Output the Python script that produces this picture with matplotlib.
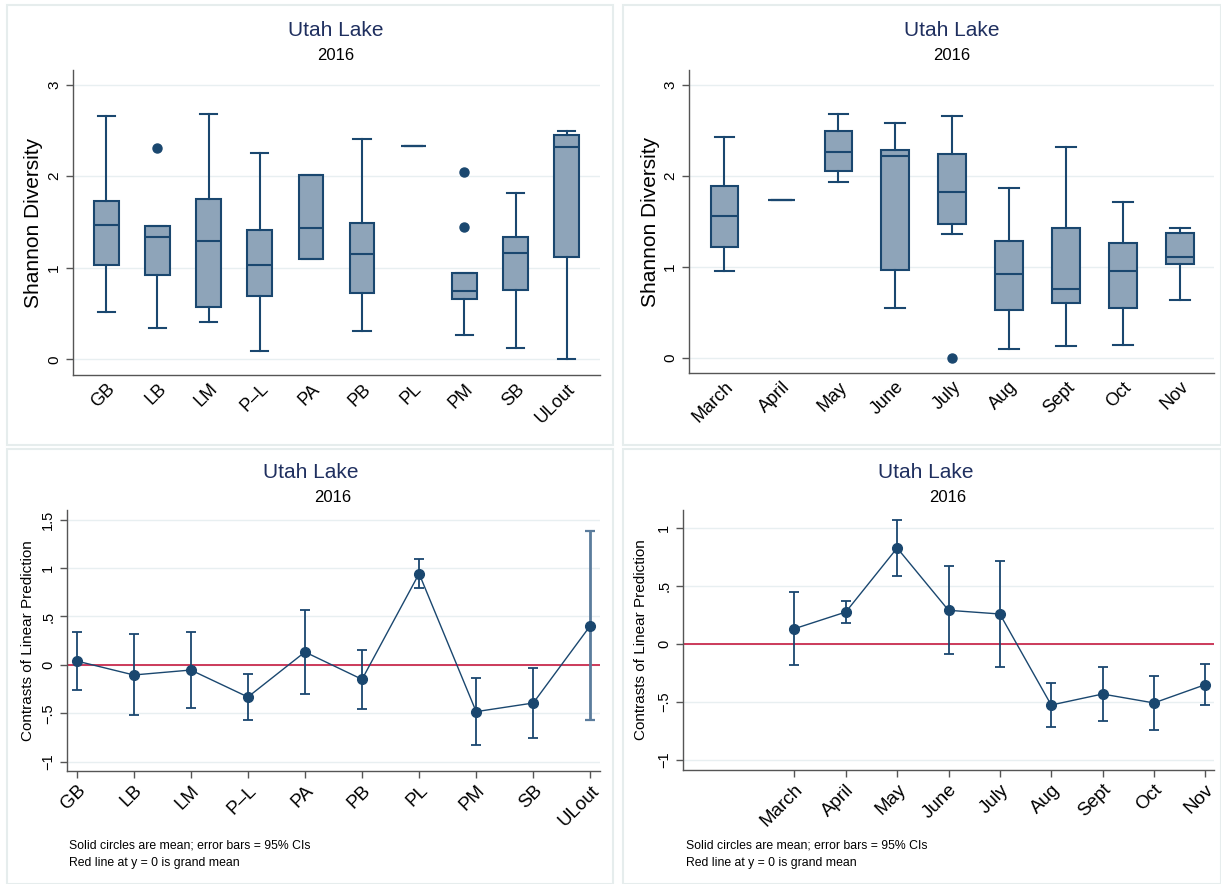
import matplotlib
matplotlib.use("Agg")
import matplotlib.pyplot as plt
from matplotlib.patches import Rectangle

plt.rcParams['font.family'] = ['Liberation Sans', 'DejaVu Sans']

# ---------------- data ----------------
sites = ["GB", "LB", "LM", "P–L", "PA", "PB", "PL", "PM", "SB", "ULout"]
site_whislo = [0.52, 0.34, 0.41, 0.09, 1.10, 0.31, 2.33, 0.27, 0.13, 0.00]
site_q1     = [1.03, 0.92, 0.575, 0.695, 1.10, 0.72, 2.33, 0.655, 0.753, 1.116]
site_med    = [1.465, 1.338, 1.29, 1.036, 1.436, 1.156, 2.33, 0.749, 1.167, 2.324]
site_q3     = [1.73, 1.458, 1.75, 1.411, 2.015, 1.491, 2.33, 0.942, 1.335, 2.451]
site_whishi = [2.66, 1.458, 2.676, 2.258, 2.015, 2.41, 2.33, 0.942, 1.818, 2.495]
site_fliers = [[], [2.31], [], [], [], [], [], [2.047, 1.447], [], []]

months = ["March", "April", "May", "June", "July", "Aug", "Sept", "Oct", "Nov"]
month_whislo = [0.946, 1.728, 1.929, 0.541, 1.359, 0.091, 0.132, 0.142, 0.628]
month_q1     = [1.217, 1.728, 2.05, 0.965, 1.472, 0.522, 0.596, 0.544, 1.027]
month_med    = [1.553, 1.728, 2.258, 2.214, 1.816, 0.917, 0.749, 0.946, 1.100]
month_q3     = [1.889, 1.728, 2.492, 2.284, 2.240, 1.286, 1.429, 1.264, 1.374]
month_whishi = [2.419, 1.728, 2.678, 2.576, 2.656, 1.867, 2.309, 1.710, 1.425]
month_fliers = [[], [], [], [], [0.0], [], [], [], []]

site_mean = [0.041, -0.103, -0.052, -0.330, 0.134, -0.148, 0.942, -0.481, -0.392, 0.405]
site_lo   = [-0.261, -0.519, -0.440, -0.564, -0.299, -0.454, 0.797, -0.825, -0.749, -0.567]
site_hi   = [0.344, 0.316, 0.337, -0.093, 0.567, 0.158, 1.096, -0.134, -0.031, 1.378]

month_num  = [3, 4, 5, 6, 7, 8, 9, 10, 11]
month_mean = [0.132, 0.276, 0.829, 0.291, 0.259, -0.527, -0.432, -0.509, -0.351]
month_lo   = [-0.181, 0.178, 0.584, -0.089, -0.196, -0.717, -0.668, -0.740, -0.529]
month_hi   = [0.449, 0.374, 1.073, 0.676, 0.717, -0.337, -0.196, -0.276, -0.176]

title_txt = "Utah Lake"
sub_txt = "2016"
note1 = "Solid circles are mean; error bars = 95% CIs"
note2 = "Red line at y = 0 is grand mean"

# ---------------- style ----------------
NAVY = "#1a476f"
LIGHT_NAVY = "#5b7c9c"
FILL = "#8ea4b9"
GRID = "#e8eff1"
SPINE = "#555555"
TITLE_C = "#1f2f5f"
RED = "#cc3a5a"

W, H = 1221, 884
fig = plt.figure(figsize=(W / 100, H / 100), dpi=100)
fig.patch.set_facecolor("white")

def px_rect(l, t, r, b):
    return [l / W, 1 - b / H, (r - l) / W, (b - t) / H]

# panel borders
for (l, t, r, b) in [(7, 5, 613, 445), (623, 5, 1221, 445), (7, 449, 613, 884), (623, 449, 1221, 884)]:
    fig.patches.append(Rectangle((l / W, 1 - b / H), (r - l) / W, (b - t) / H,
                                 transform=fig.transFigure, fill=False,
                                 edgecolor="#e6eded", lw=1.5))

def style_axes(ax):
    for s in ["top", "right"]:
        ax.spines[s].set_visible(False)
    for s in ["left", "bottom"]:
        ax.spines[s].set_color(SPINE)
        ax.spines[s].set_linewidth(1.0)
    ax.yaxis.grid(True, color=GRID, lw=1.0)
    ax.set_axisbelow(True)
    ax.tick_params(axis="y", colors=SPINE, length=5, width=1, labelcolor="black")

def titles(xc_title, xc_sub, y_title, y_sub):
    fig.text(xc_title / W, 1 - y_title / H, title_txt, ha="center", va="center",
             fontsize=15, color=TITLE_C)
    fig.text(xc_sub / W, 1 - y_sub / H, sub_txt, ha="center", va="center",
             fontsize=12, color="black")

def box_panel(rect, labels, whislo, q1, med, q3, whishi, fliers):
    ax = fig.add_axes(rect)
    style_axes(ax)
    stats = []
    for i in range(len(labels)):
        stats.append(dict(whislo=whislo[i], q1=q1[i], med=med[i], q3=q3[i],
                          whishi=whishi[i], fliers=fliers[i]))
    pos = list(range(1, len(labels) + 1))
    ax.bxp(stats, positions=pos, widths=0.48, patch_artist=True,
           showfliers=True, capwidths=0.34,
           boxprops=dict(facecolor=FILL, edgecolor=NAVY, linewidth=1.5),
           medianprops=dict(color=NAVY, linewidth=1.5),
           whiskerprops=dict(color=NAVY, linewidth=1.5),
           capprops=dict(color=NAVY, linewidth=1.5),
           flierprops=dict(marker="o", markerfacecolor=NAVY,
                           markeredgecolor=NAVY, markersize=6.5))
    ax.set_xlim(0.35, len(labels) + 0.65)
    ax.set_ylim(-0.17, 3.16)
    ax.set_yticks([0, 1, 2, 3])
    ax.set_yticklabels(["0", "1", "2", "3"], rotation=90, va="center", fontsize=11)
    ax.set_xticks(pos)
    ax.set_xticklabels(labels, rotation=45, ha="right", rotation_mode="anchor",
                       fontsize=13)
    ax.tick_params(axis="x", length=0, pad=4)
    ax.set_ylabel("Shannon Diversity", fontsize=15)
    return ax

ax1 = box_panel(px_rect(73, 70, 600, 375), sites, site_whislo, site_q1, site_med,
                site_q3, site_whishi, site_fliers)
ax1.yaxis.set_label_coords(-0.056, 0.5)
titles(336, 336, 31, 56)

ax2 = box_panel(px_rect(689, 70, 1214, 373), months, month_whislo, month_q1, month_med,
                month_q3, month_whishi, month_fliers)
ax2.set_xlim(0.38, len(months) + 0.6)
ax2.yaxis.set_label_coords(-0.056, 0.5)
titles(952, 952, 31, 56)

def contrast_panel(rect, xs, labels, mean, lo, hi, xlim, ylim, yticks, yticklabels,
                   light_last=False):
    ax = fig.add_axes(rect)
    style_axes(ax)
    ax.axhline(0, color=RED, lw=1.4, zorder=2)
    yerr_lo = [m - l for m, l in zip(mean, lo)]
    yerr_hi = [h - m for m, h in zip(mean, hi)]
    n = len(xs) - 1 if light_last else len(xs)
    ax.errorbar(xs[:n], mean[:n], yerr=[yerr_lo[:n], yerr_hi[:n]], fmt="none",
                ecolor=NAVY, elinewidth=1.3, capsize=3.5, capthick=1.3, zorder=3)
    if light_last:
        ax.errorbar(xs[n:], mean[n:], yerr=[yerr_lo[n:], yerr_hi[n:]], fmt="none",
                    ecolor=LIGHT_NAVY, elinewidth=2.0, capsize=3.5, capthick=1.6,
                    zorder=3)
    ax.plot(xs, mean, "-o", color=NAVY, lw=1.0, markersize=7, zorder=4)
    ax.set_xlim(*xlim)
    ax.set_ylim(*ylim)
    ax.set_yticks(yticks)
    ax.set_yticklabels(yticklabels, rotation=90, va="center", fontsize=10.5)
    ax.set_xticks(xs)
    ax.set_xticklabels(labels, rotation=45, ha="right", rotation_mode="anchor",
                       fontsize=13.5)
    ax.tick_params(axis="x", colors=SPINE, length=5, width=1, labelcolor="black", pad=3)
    ax.set_ylabel("Contrasts of Linear Prediction", fontsize=11)
    return ax

ax3 = contrast_panel(px_rect(67, 510, 600, 771), list(range(1, len(sites) + 1)), sites,
                     site_mean, site_lo, site_hi, (0.83, len(sites) + 0.17),
                     (-1.093, 1.598), [-1, -0.5, 0, 0.5, 1, 1.5],
                     ["−1", "−.5", "0", ".5", "1", "1.5"], light_last=True)
ax3.yaxis.set_label_coords(-0.06, 0.5)
titles(311, 333, 472, 497)
fig.text(69 / W, 1 - 846 / H, note1, fontsize=8.8, va="center")
fig.text(69 / W, 1 - 863 / H, note2, fontsize=8.8, va="center")

ax4 = contrast_panel(px_rect(683, 510, 1214, 770), month_num, months,
                     month_mean, month_lo, month_hi, (0.83, 11.17),
                     (-1.088, 1.157), [-1, -0.5, 0, 0.5, 1],
                     ["−1", "−.5", "0", ".5", "1"])
ax4.yaxis.set_label_coords(-0.065, 0.5)
titles(926, 948, 472, 497)
fig.text(686 / W, 1 - 846 / H, note1, fontsize=8.8, va="center")
fig.text(686 / W, 1 - 863 / H, note2, fontsize=8.8, va="center")

fig.savefig("out.png", dpi=100, facecolor="white")
